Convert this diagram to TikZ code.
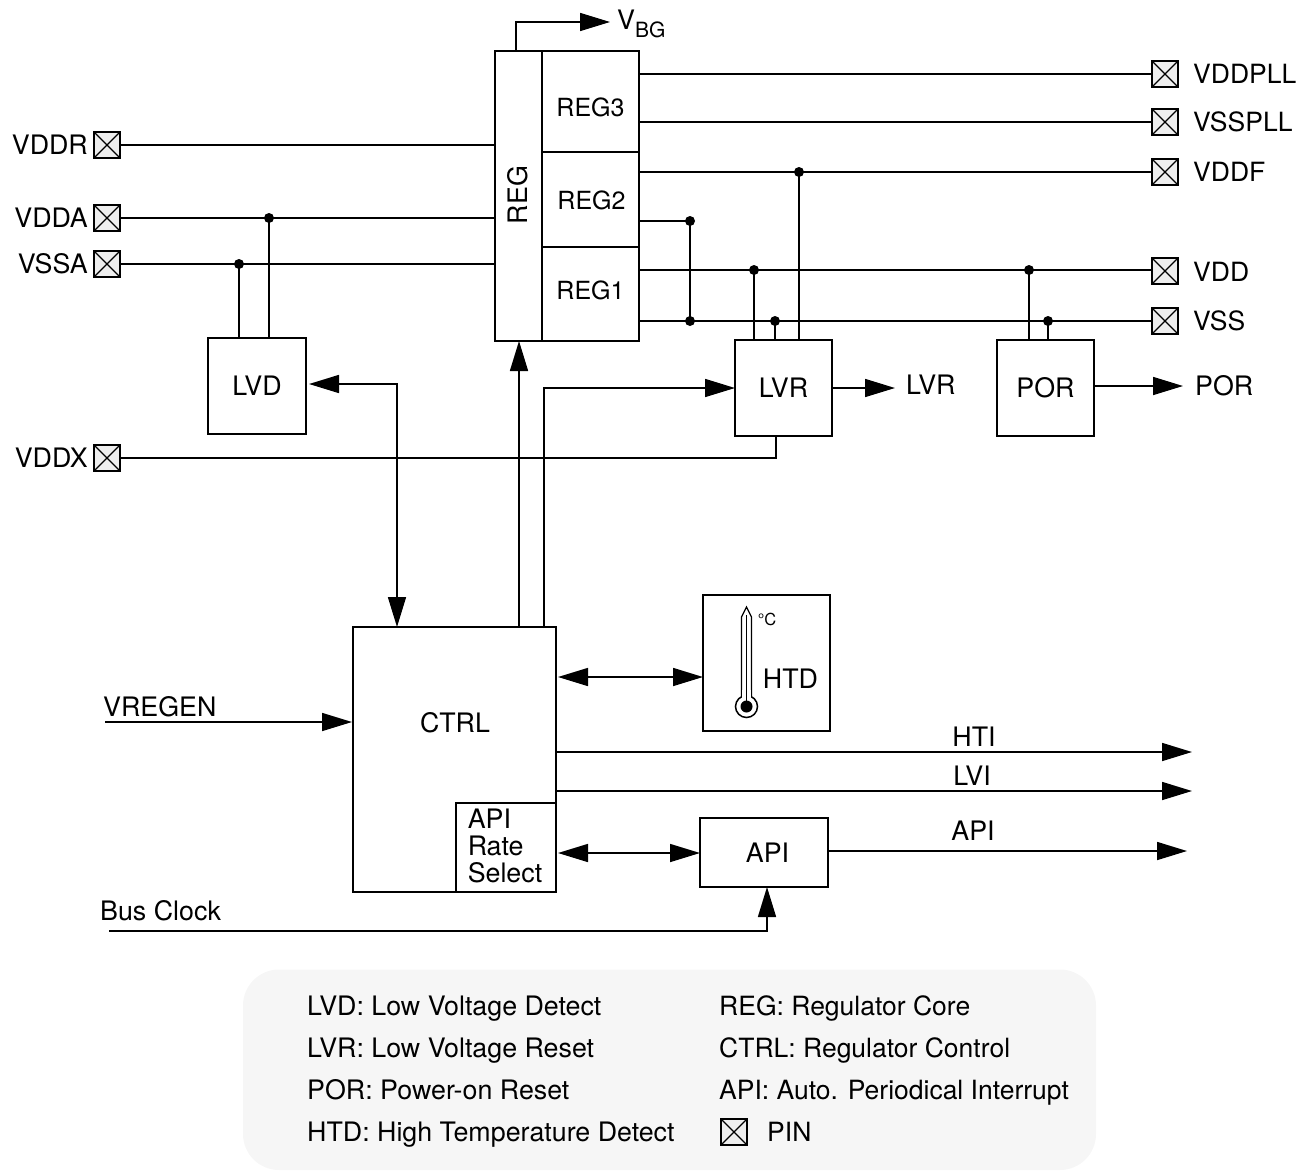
\documentclass[tikz,border=0pt]{standalone}
\usepackage{fontspec}
\setmainfont{TeX Gyre Heros}
\usetikzlibrary{arrows.meta,calc}
\definecolor{legendbg}{HTML}{F6F6F6}
\definecolor{pinfill}{HTML}{EEEEEE}
\tikzset{
  every node/.style={font=\fontsize{26.8}{27}\selectfont},
  wire/.style={line width=1.6pt,black},
  arr/.style={wire,-{Triangle[length=30pt,width=18pt]}},
  darr/.style={wire,{Triangle[length=30pt,width=18pt]}-{Triangle[length=30pt,width=18pt]}},
  blockbox/.style={draw,line width=1.6pt,inner sep=0pt,outer sep=0pt,anchor=north west,align=center},
  pinbox/.style={draw,line width=1.3pt,fill=pinfill,minimum size=26pt,inner sep=0pt,outer sep=0pt,
    path picture={\draw[line width=1.1pt] (path picture bounding box.north west)--(path picture bounding box.south east)
      (path picture bounding box.north east)--(path picture bounding box.south west);}},
  dot/.style={circle,fill=black,inner sep=0pt,minimum size=10pt},
  lab/.style={inner sep=0pt,text height=19pt,text depth=0pt},
  reglab/.style={lab,font=\fontsize{25}{27}\selectfont},
  pinlab/.style={lab,anchor=west,font=\fontsize{26.5}{27}\selectfont},
  leg/.style={lab,anchor=west},
  legr/.style={lab,anchor=west,font=\fontsize{26.5}{27}\selectfont},
}
\newcommand{\blk}[6]{\node[blockbox,minimum width=#4pt-#3pt,minimum height=#6pt-#5pt] (#1) at (#3,#5) {#2};}
\begin{document}
\begin{tikzpicture}[x=1pt,y=-1pt]
\useasboundingbox (0,0) rectangle (1309,1170);
% legend
\node[draw=none,fill=legendbg,rounded corners=36pt,inner sep=0pt,outer sep=0pt,anchor=north west,minimum width=853pt,minimum height=200.5pt] (legend) at (243,969.5) {};
% blocks
\blk{reg}{}{495}{542}{51}{341}
\blk{regthree}{}{542}{639}{51}{152}
\blk{regtwo}{}{542}{639}{152}{247}
\blk{regone}{}{542}{639}{247}{341}
\blk{lvd}{LVD}{208}{306}{338}{434}
\blk{lvr}{LVR}{735}{832}{340}{436}
\blk{por}{POR}{997}{1094}{340}{436}
\blk{ctrl}{}{353}{556}{627}{892}
\blk{ars}{}{456}{556}{803}{892}
\blk{htd}{}{703}{830}{595}{731}
\blk{api}{}{700}{828}{818}{887}
\node[lab] (apilabel) at (767.5,853) {API};
\node[inner sep=0pt,rotate=90] (reglabel) at (518,195) {REG};
\node[reglab] (regl3) at (590.5,107) {REG3};
\node[reglab] (regl2) at (591.5,200) {REG2};
\node[reglab] (regl1) at (590.5,290) {REG1};
\node[inner sep=0pt,align=left] (arslab) at (505,846) {API\\Rate\\Select};
\node[lab] (ctrllab) at (455,723) {CTRL};
\node[lab] (htdlab) at (790.5,679) {HTD};
\node[lab,text height=11pt,font=\fontsize{16.5}{16.5}\selectfont] (deg) at (767,620) {°C};
% thermometer
\draw[line width=1.3pt,fill=white] (741.5,697) -- (741.5,617) -- (746.5,607) -- (751.5,617) -- (751.5,697);
\draw[line width=1.5pt] (746.5,706.5) circle[radius=11];
\fill[white] (742.3,690) rectangle (750.7,700);
\draw[line width=1.8pt] (746.5,615) -- (746.5,702);
\fill (746.5,706.5) circle[radius=6];
% pins
\foreach \n/\y in {VDDR/145,VDDA/218,VSSA/264,VDDX/458}{
  \node[pinbox] (p\n) at (107,\y) {};
  \node[lab,anchor=east] (l\n) at (88,\y) {\n};
}
\foreach \n/\y/\ly in {VDDPLL/74/74,VSSPLL/122/122,VDDF/172/172,VDD/271/272,VSS/321/321}{
  \node[pinbox] (p\n) at (1165,\y) {};
  \node[pinlab] (l\n) at (1193,\ly) {\n};
}
% supply wires
\draw[wire] (pVDDR.east) -- (reg.west |- pVDDR);
\draw[wire] (pVDDA.east) -- (reg.west |- pVDDA);
\draw[wire] (pVSSA.east) -- (reg.west |- pVSSA);
\draw[wire] (pVDDPLL.west) -- (regthree.east |- pVDDPLL);
\draw[wire] (pVSSPLL.west) -- (regthree.east |- pVSSPLL);
\draw[wire] (pVDDF.west) -- (regtwo.east |- pVDDF);
\coordinate (vddw) at (1152,270);
\draw[wire] (vddw) -- (regone.east |- vddw);
\draw[wire] (pVSS.west) -- (regone.east |- pVSS);
% dots
\node[dot] (da) at (269,218) {};
\node[dot] (db) at (239,264) {};
\node[dot] (dc) at (799,172) {};
\node[dot] (dd) at (690,221) {};
\node[dot] (de) at (690,321) {};
\node[dot] (df) at (754,270) {};
\node[dot] (dg) at (775,321) {};
\node[dot] (dh) at (1029,270) {};
\node[dot] (di) at (1048,321) {};
\draw[wire] (da.center) -- (da |- lvd.north);
\draw[wire] (db.center) -- (db |- lvd.north);
\draw[wire] (dc.center) -- (dc |- lvr.north);
\draw[wire] (dd.center) -- (regtwo.east |- dd);
\draw[wire] (dd.center) -- (de.center);
\draw[wire] (df.center) -- (df |- lvr.north);
\draw[wire] (dg.center) -- (dg |- lvr.north);
\draw[wire] (dh.center) -- (dh |- por.north);
\draw[wire] (di.center) -- (di |- por.north);
% VBG
\coordinate (vbgs) at (516,51);
\coordinate (vbge) at (610,22);
\draw[arr] (vbgs) |- (vbge);
\node[lab,anchor=west] (vbg) at (617,20) {V\raisebox{-7.5pt}{\fontsize{21}{21}\selectfont BG}};
% LVR / POR outputs
\coordinate (lvro) at (895,388);
\coordinate (poro) at (1183,386);
\draw[arr] (lvr.east |- lvro) -- (lvro);
\draw[arr] (por.east |- poro) -- (poro);
\node[lab,anchor=west] (lvrlab) at (906,385) {LVR};
\node[lab,anchor=west] (porlab) at (1195,386) {POR};
% VDDX
\coordinate (vddxc) at (776,458);
\draw[wire] (pVDDX.east) -- (vddxc) -- (vddxc |- lvr.south);
% control wires
\coordinate (lvdc) at (397,384);
\draw[darr] ([xshift=3pt]lvd.east |- lvdc) -- (lvdc) -- (lvdc |- ctrl.north);
\coordinate (regc) at (519,627);
\draw[arr] (regc) -- (regc |- reg.south);
\coordinate (lvrc) at (544,628);
\coordinate (lvrd) at (544,388);
\draw[arr] (lvrc) -- (lvrd) -- (lvr.west |- lvrd);
% HTD / API
\coordinate (htdc) at (630,677);
\draw[darr] ([xshift=2pt]ctrl.east |- htdc) -- (htd.west |- htdc);
\coordinate (apic) at (630,853);
\draw[darr] ([xshift=2pt]ars.east |- apic) -- (api.west |- apic);
% VREGEN
\coordinate (vregs) at (105,722);
\draw[arr] (vregs) -- ([xshift=-1pt]ctrl.west |- vregs);
\node[lab,anchor=west] (vreglab) at (103,707) {VREGEN};
% outputs
\coordinate (htie) at (1192,752);
\coordinate (lvie) at (1192,791);
\coordinate (apie) at (1187,851);
\draw[arr] (ctrl.east |- htie) -- (htie);
\draw[arr] (ctrl.east |- lvie) -- (lvie);
\draw[arr] (api.east |- apie) -- (apie);
\node[lab] (htilab) at (974,737) {HTI};
\node[lab] (lvilab) at (972,776) {LVI};
\node[lab] (apilab) at (973,831) {API};
% bus clock
\coordinate (bcs) at (109,931);
\coordinate (bcc) at (767,931);
\draw[arr] (bcs) -- (bcc) -- (bcc |- api.south);
\node[lab,anchor=west] (bclab) at (100,911) {Bus Clock};
% legend text
\node[leg] (la) at (307,1006) {LVD: Low Voltage Detect};
\node[leg] (lb) at (307,1048) {LVR: Low Voltage Reset};
\node[leg] (lc) at (307,1090) {POR: Power-on Reset};
\node[leg] (ld) at (307,1132) {HTD: High Temperature Detect};
\node[legr] (le) at (719,1006) {REG: Regulator Core};
\node[legr] (lf) at (719,1048) {CTRL: Regulator Control};
\node[legr] (lg) at (719,1090) {API: Auto. Periodical Interrupt};
\node[pinbox] (lh) at (734,1132) {};
\node[legr] (li) at (767,1132) {PIN};
\end{tikzpicture}
\end{document}
